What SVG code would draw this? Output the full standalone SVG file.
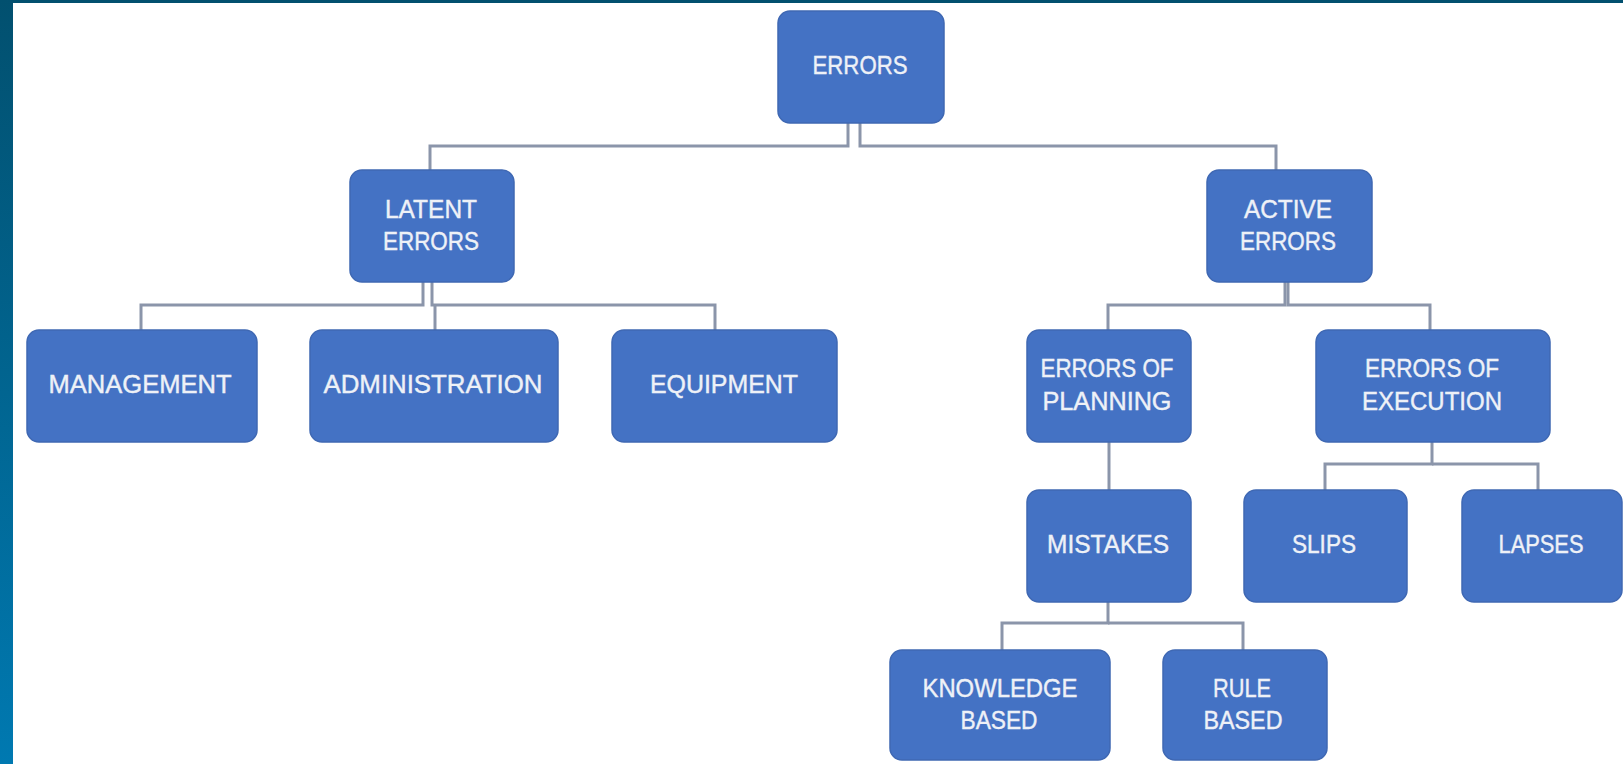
<svg xmlns="http://www.w3.org/2000/svg" width="1623" height="764" viewBox="0 0 1623 764">
<defs>
<linearGradient id="frame" x1="0" y1="0" x2="0" y2="1">
<stop offset="0" stop-color="#02506f"/>
<stop offset="1" stop-color="#0079b1"/>
</linearGradient>
<style>
.box{fill:#4472c4;stroke:#3f68b3;stroke-width:1.5}
.lbl{font-family:"Liberation Sans",Arial,sans-serif;font-size:25px;fill:#eef1f7;stroke:#eef1f7;stroke-width:0.4;text-anchor:middle}
.con{fill:none;stroke:#8b95aa;stroke-width:3}
</style>
</defs>
<rect x="0" y="0" width="1623" height="764" fill="#ffffff"/>
<rect x="0" y="0" width="1623" height="3" fill="#02506f"/>
<rect x="0" y="0" width="13" height="764" fill="url(#frame)"/>
<g id="connectors">
<path class="con" d="M848,123 V146 H430 V170"/>
<path class="con" d="M860,123 V146 H1276 V170"/>
<path class="con" d="M423,282 V305 H141 V330"/>
<path class="con" d="M432,282 V305 H715 V330"/>
<path class="con" d="M435,305 V330"/>
<path class="con" d="M1285,282 V305 H1108 V330"/>
<path class="con" d="M1288,282 V305 H1430 V330"/>
<path class="con" d="M1109,442 V490"/>
<path class="con" d="M1432,442 V464 H1325 V490"/>
<path class="con" d="M1432,464 H1538 V490"/>
<path class="con" d="M1108,602 V623 H1002 V650"/>
<path class="con" d="M1108,623 H1243 V650"/>
</g>
<g id="errors">
<rect class="box" x="778" y="11" width="166" height="112" rx="12"/>
<text class="lbl" x="860" y="74" textLength="95" lengthAdjust="spacingAndGlyphs">ERRORS</text>
</g>
<g id="latent">
<rect class="box" x="350" y="170" width="164" height="112" rx="12"/>
<text class="lbl" x="431" y="218" textLength="92" lengthAdjust="spacingAndGlyphs">LATENT</text>
<text class="lbl" x="431" y="250" textLength="96" lengthAdjust="spacingAndGlyphs">ERRORS</text>
</g>
<g id="active">
<rect class="box" x="1207" y="170" width="165" height="112" rx="12"/>
<text class="lbl" x="1288" y="218" textLength="88" lengthAdjust="spacingAndGlyphs">ACTIVE</text>
<text class="lbl" x="1288" y="250" textLength="96" lengthAdjust="spacingAndGlyphs">ERRORS</text>
</g>
<g id="management">
<rect class="box" x="27" y="330" width="230" height="112" rx="12"/>
<text class="lbl" x="140" y="393" textLength="183" lengthAdjust="spacingAndGlyphs">MANAGEMENT</text>
</g>
<g id="administration">
<rect class="box" x="310" y="330" width="248" height="112" rx="12"/>
<text class="lbl" x="433" y="393" textLength="219" lengthAdjust="spacingAndGlyphs">ADMINISTRATION</text>
</g>
<g id="equipment">
<rect class="box" x="612" y="330" width="225" height="112" rx="12"/>
<text class="lbl" x="724" y="393" textLength="148" lengthAdjust="spacingAndGlyphs">EQUIPMENT</text>
</g>
<g id="planning">
<rect class="box" x="1027" y="330" width="164" height="112" rx="12"/>
<text class="lbl" x="1107" y="377" textLength="133" lengthAdjust="spacingAndGlyphs">ERRORS OF</text>
<text class="lbl" x="1107" y="410" textLength="129" lengthAdjust="spacingAndGlyphs">PLANNING</text>
</g>
<g id="execution">
<rect class="box" x="1316" y="330" width="234" height="112" rx="12"/>
<text class="lbl" x="1432" y="377" textLength="134" lengthAdjust="spacingAndGlyphs">ERRORS OF</text>
<text class="lbl" x="1432" y="410" textLength="140" lengthAdjust="spacingAndGlyphs">EXECUTION</text>
</g>
<g id="mistakes">
<rect class="box" x="1027" y="490" width="164" height="112" rx="12"/>
<text class="lbl" x="1108" y="553" textLength="122" lengthAdjust="spacingAndGlyphs">MISTAKES</text>
</g>
<g id="slips">
<rect class="box" x="1244" y="490" width="163" height="112" rx="12"/>
<text class="lbl" x="1324" y="553" textLength="64" lengthAdjust="spacingAndGlyphs">SLIPS</text>
</g>
<g id="lapses">
<rect class="box" x="1462" y="490" width="160" height="112" rx="12"/>
<text class="lbl" x="1541" y="553" textLength="85" lengthAdjust="spacingAndGlyphs">LAPSES</text>
</g>
<g id="knowledge">
<rect class="box" x="890" y="650" width="220" height="110" rx="12"/>
<text class="lbl" x="1000" y="697" textLength="155" lengthAdjust="spacingAndGlyphs">KNOWLEDGE</text>
<text class="lbl" x="999" y="729" textLength="77" lengthAdjust="spacingAndGlyphs">BASED</text>
</g>
<g id="rule">
<rect class="box" x="1163" y="650" width="164" height="110" rx="12"/>
<text class="lbl" x="1242" y="697" textLength="58" lengthAdjust="spacingAndGlyphs">RULE</text>
<text class="lbl" x="1243" y="729" textLength="79" lengthAdjust="spacingAndGlyphs">BASED</text>
</g>
</svg>
